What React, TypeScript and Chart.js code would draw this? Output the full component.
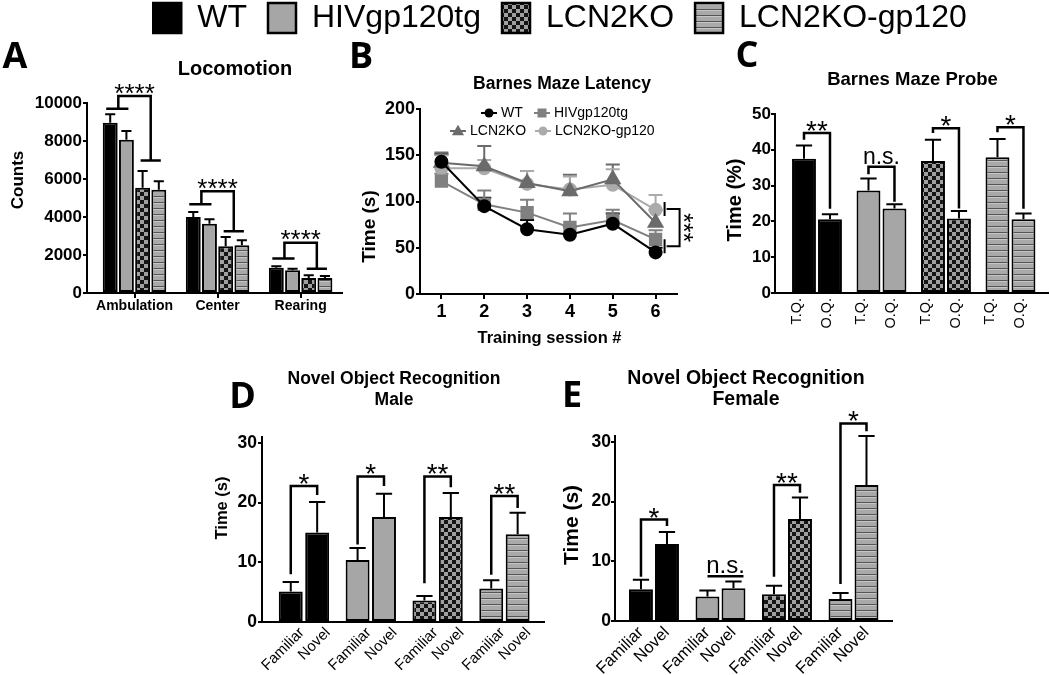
import React, { useEffect, useRef } from 'react';
import { Chart, registerables } from 'chart.js';

Chart.register(...registerables);

const W = 1050;
const H = 675;
const SANS = "'Liberation Sans', Arial, Helvetica, sans-serif";
const LETTER_FONT = "'Open Sans', 'Liberation Sans', Arial, sans-serif";
const BLACK = '#000000';

// ---------------- data ----------------
const groups = ['WT', 'HIVgp120tg', 'LCN2KO', 'LCN2KO-gp120'];

// A: Locomotion
const locoCategories = ['Ambulation', 'Center', 'Rearing'];
const locoTicks = [0, 2000, 4000, 6000, 8000, 10000];
const locoWT = [8965, 4000, 1333];
const locoWTSem = [440, 263, 71];
const locoHIV = [8070, 3649, 1193];
const locoHIVSem = [456, 228, 87];
const locoKO = [5544, 2456, 789];
const locoKOSem = [877, 491, 141];
const locoKOgp = [5439, 2509, 789];
const locoKOgpSem = [438, 263, 106];
const locoSig = [[9700, 10370, 6980], [4670, 5350, 3245], [1810, 2650, 1280]];
const locoSigLabels = ['****', '****', '****'];

// B: Barnes maze latency
const sessions = ['1', '2', '3', '4', '5', '6'];
const latencyTicks = [0, 50, 100, 150, 200];
const latWT = [143, 95, 70, 64, 76, 45];
const latWTSem = [8, 9, 10, 9, 11, 5];
const latHIV = [122, 97, 88, 72, 80, 59];
const latHIVSem = [8, 15, 14, 15, 11, 10];
const latKO = [142, 138, 120, 111, 124, 77];
const latKOSem = [11, 22, 13, 18, 16, 14];
const latKOgp = [136, 136, 119, 113, 118, 91];
const latKOgpSem = [14, 9, 14, 14, 17, 16];
const latSig = [92, 51.5];
const latSigLabel = '***';

// C: Barnes maze probe
const probeLabels = ['T.Q.', 'O.Q.'];
const probeTicks = [0, 10, 20, 30, 40, 50];
const probeTQ = [37.5, 28.6, 36.9, 37.9];
const probeTQSem = [3.7, 3.4, 5.9, 5.1];
const probeOQ = [20.6, 23.6, 20.8, 20.6];
const probeOQSem = [1.4, 1.2, 2.1, 1.6];
const probeSig = [[42.8, 44.7, 23.5], [33.2, 35.3, 25.5], [44.7, 46.0, 23.6], [44.9, 46.3, 23.5]];
const probeSigLabels = ['**', 'n.s.', '*', '*'];

// D / E: Novel object recognition
const objectLabels = ['Familiar', 'Novel'];
const objectTicks = [0, 10, 20, 30];
const maleFamiliar = [5.1, 10.4, 3.6, 5.6];
const maleFamiliarSem = [1.6, 2.0, 0.75, 1.4];
const maleNovel = [15.0, 17.6, 17.6, 14.7];
const maleNovelSem = [5.1, 3.9, 4.0, 3.6];
const maleSig = [[8.0, 22.8, 21.3], [13.0, 24.4, 22.8], [6.5, 24.4, 22.6], [7.9, 21.1, 19.1]];
const maleSigLabels = ['*', '*', '**', '**'];

const femaleFamiliar = [5.3, 4.1, 4.5, 3.7];
const femaleFamiliarSem = [1.6, 1.0, 1.4, 1.0];
const femaleNovel = [12.9, 5.5, 17.1, 22.8];
const femaleNovelSem = [2.0, 1.1, 3.6, 8.2];
const femaleSig = [[7.4, 17.0, 15.9], [7.5, 7.5, 7.5], [7.4, 22.8, 21.5], [6.2, 33.1, 31.8]];
const femaleSigLabels = ['*', 'n.s.', '**', '*'];

// ---------------- layout (styles) ----------------
// xStart / xRange: category-axis span (in category units) so the first group sits
// a little further from the y axis, as in GraphPad.
const AREA_A = { left: 87, top: 103, right: 342, bottom: 293, yW: 70, xH: 50, xStart: -0.572, xRange: 3.07 };
const AREA_B = { left: 420, top: 109, right: 677, bottom: 294, yW: 70, xH: 40 };
const AREA_C = { left: 775, top: 114, right: 1048, bottom: 293, yW: 70, xH: 50, xStart: -0.651, xRange: 4.233 };
const AREA_D = { left: 262, top: 437, right: 544, bottom: 622, yW: 70, xH: 53, xStart: -0.628, xRange: 4.22 };
const AREA_E = { left: 615, top: 436, right: 892, bottom: 621, yW: 70, xH: 54, xStart: -0.586, xRange: 4.165 };
const B_LEGEND_SLOTS = [[489, 113], [542, 113], [458, 131], [543, 131]];

function makeFills(): any[] {
  const check = document.createElement('canvas');
  check.width = 8;
  check.height = 8;
  let g = check.getContext('2d')!;
  g.fillStyle = '#151515';
  g.fillRect(0, 0, 8, 8);
  g.fillStyle = '#a0a0a0';
  g.fillRect(0, 0, 4, 4);
  g.fillRect(4, 4, 4, 4);
  const stripe = document.createElement('canvas');
  stripe.width = 6;
  stripe.height = 6;
  g = stripe.getContext('2d')!;
  g.fillStyle = '#a9a9a9';
  g.fillRect(0, 0, 6, 6);
  g.fillStyle = '#555555';
  g.fillRect(0, 4, 6, 1);
  g.fillStyle = '#c6c6c6';
  g.fillRect(0, 5, 6, 1);
  const c = document.createElement('canvas').getContext('2d')!;
  return ['#000000', '#a6a6a6', c.createPattern(check, 'repeat'), c.createPattern(stripe, 'repeat')];
}

function padFor(a: any) {
  return { left: a.left - a.yW, top: a.top, right: W - a.right, bottom: H - a.bottom - a.xH };
}

function baseOptions(a: any) {
  return {
    responsive: false,
    animation: false,
    events: [],
    layout: { padding: padFor(a) },
    plugins: { legend: { display: false }, title: { display: false }, tooltip: { enabled: false } },
  };
}

function spanCategories(a: any) {
  return (s: any) => {
    if (a.xStart != null) {
      s._startValue = a.xStart;
      s._valueRange = a.xRange;
    }
  };
}

function yAxis(a: any, max: number, ticks: number[], size: number, tickLen: number, pad: number) {
  return {
    type: 'linear',
    min: 0,
    max,
    afterFit: (s: any) => { s.width = a.yW; },
    afterBuildTicks: (s: any) => { s.ticks = ticks.map((v) => ({ value: v })); },
    ticks: { color: BLACK, padding: pad, font: { family: SANS, size, weight: 'bold' }, callback: (v: any) => String(v) },
    grid: { display: true, drawOnChartArea: false, drawTicks: true, tickLength: tickLen, color: BLACK, lineWidth: 2 },
    border: { display: true, color: BLACK, width: 2 },
  };
}

// ---------------- plugins ----------------
function textPlugin(items: any[]) {
  return {
    id: 'panelTexts',
    afterDraw(chart: any) {
      const ctx = chart.ctx;
      for (const t of items) {
        ctx.save();
        ctx.translate(t.x, t.y);
        if (t.rotate) ctx.rotate(t.rotate);
        ctx.font = `${t.bold ? 'bold ' : ''}${t.size}px ${t.family || SANS}`;
        ctx.fillStyle = BLACK;
        ctx.textAlign = 'center';
        ctx.textBaseline = 'middle';
        ctx.fillText(t.text, 0, 0);
        ctx.restore();
      }
    },
  };
}

function errorBars(capHalf: number | null, before: boolean) {
  const draw = (chart: any) => {
    const ctx = chart.ctx;
    const y = chart.scales.y;
    chart.data.datasets.forEach((ds: any, i: number) => {
      if (!ds.errors) return;
      const meta = chart.getDatasetMeta(i);
      ctx.save();
      ctx.strokeStyle = ds.errorColor || BLACK;
      ctx.lineWidth = 2;
      meta.data.forEach((el: any, j: number) => {
        const v = ds.data[j];
        const e = ds.errors[j];
        const x = el.x;
        const y0 = y.getPixelForValue(v);
        const y1 = y.getPixelForValue(v + e);
        const h = capHalf != null ? capHalf : el.width * 0.34;
        ctx.beginPath();
        ctx.moveTo(x, y0);
        ctx.lineTo(x, y1);
        ctx.moveTo(x - h, y1);
        ctx.lineTo(x + h, y1);
        ctx.stroke();
      });
      ctx.restore();
    });
  };
  return before ? { id: 'errorBars', beforeDatasetsDraw: draw } : { id: 'errorBars', afterDatasetsDraw: draw };
}

function drawSigLabel(ctx: any, text: string, x: number, yTop: number, starSize: number, nsSize: number) {
  ctx.save();
  ctx.fillStyle = BLACK;
  ctx.textAlign = 'center';
  ctx.textBaseline = 'alphabetic';
  if (text === 'n.s.') {
    ctx.font = `${nsSize}px ${SANS}`;
    ctx.fillText(text, x, yTop - 3);
  } else {
    ctx.font = `${starSize}px ${SANS}`;
    ctx.fillText(text, x, yTop - 9 + 0.57 * starSize);
  }
  ctx.restore();
}

function pairSig(sig: number[][], labels: string[], starSize: number, nsSize: number) {
  return {
    id: 'pairSig',
    afterDatasetsDraw(chart: any) {
      const ctx = chart.ctx;
      const y = chart.scales.y;
      const m0 = chart.getDatasetMeta(0);
      const m1 = chart.getDatasetMeta(1);
      sig.forEach((s, j) => {
        const x0 = m0.data[j].x;
        const x1 = m1.data[j].x;
        const ya = y.getPixelForValue(s[0]);
        const yt = y.getPixelForValue(s[1]);
        const yb = y.getPixelForValue(s[2]);
        const flat = s[0] === s[1] && s[1] === s[2];
        ctx.save();
        ctx.strokeStyle = BLACK;
        ctx.lineWidth = 2.5;
        ctx.beginPath();
        if (flat) {
          ctx.moveTo(x0, yt);
          ctx.lineTo(x1 + 10, yt);
        } else {
          ctx.moveTo(x0, ya);
          ctx.lineTo(x0, yt);
          ctx.lineTo(x1, yt);
          ctx.lineTo(x1, yb);
        }
        ctx.stroke();
        ctx.restore();
        drawSigLabel(ctx, labels[j], (x0 + x1) / 2 + (flat ? 5 : 0), yt, starSize, nsSize);
      });
    },
  };
}

function groupSig(sig: number[][], labels: string[], starSize: number) {
  return {
    id: 'groupSig',
    afterDatasetsDraw(chart: any) {
      const ctx = chart.ctx;
      const y = chart.scales.y;
      const metas = [0, 1, 2, 3].map((i) => chart.getDatasetMeta(i));
      sig.forEach((s, j) => {
        const b = metas.map((m: any) => m.data[j]);
        const xl = (b[0].x + b[1].x) / 2;
        const xr = (b[2].x + b[3].x) / 2;
        const yl = y.getPixelForValue(s[0]);
        const yt = y.getPixelForValue(s[1]);
        const yr = y.getPixelForValue(s[2]);
        ctx.save();
        ctx.strokeStyle = BLACK;
        ctx.lineWidth = 2.5;
        ctx.beginPath();
        ctx.moveTo(b[0].x - 4, yl);
        ctx.lineTo(b[1].x + 2, yl);
        ctx.moveTo(xl, yl);
        ctx.lineTo(xl, yt);
        ctx.lineTo(xr, yt);
        ctx.lineTo(xr, yr);
        ctx.moveTo(b[2].x - 2, yr);
        ctx.lineTo(b[3].x + 2, yr);
        ctx.stroke();
        ctx.restore();
        drawSigLabel(ctx, labels[j], (xl + xr) / 2, yt, starSize, starSize);
      });
    },
  };
}

function latencySig() {
  return {
    id: 'latencySig',
    afterDatasetsDraw(chart: any) {
      const ctx = chart.ctx;
      const xs = chart.scales.x.getPixelForValue(sessions.length - 1);
      const y = chart.scales.y;
      const yu = y.getPixelForValue(latSig[0]);
      const yl = y.getPixelForValue(latSig[1]);
      ctx.save();
      ctx.strokeStyle = BLACK;
      ctx.lineWidth = 2;
      ctx.beginPath();
      ctx.moveTo(xs + 9, yu - 7);
      ctx.lineTo(xs + 9, yu + 7);
      ctx.moveTo(xs + 9, yl - 7);
      ctx.lineTo(xs + 9, yl + 7);
      ctx.moveTo(xs + 11, yu);
      ctx.lineTo(xs + 24, yu);
      ctx.lineTo(xs + 24, yl);
      ctx.lineTo(xs + 11, yl);
      ctx.stroke();
      ctx.translate(xs + 34, (yu + yl) / 2);
      ctx.rotate(Math.PI / 2);
      ctx.font = `25px ${SANS}`;
      ctx.fillStyle = BLACK;
      ctx.textAlign = 'center';
      ctx.textBaseline = 'alphabetic';
      ctx.fillText(latSigLabel, 0, 0.57 * 25);
      ctx.restore();
    },
  };
}

function drawMarker(ctx: any, style: string, x: number, y: number, r: number, color: string) {
  ctx.fillStyle = color;
  ctx.beginPath();
  if (style === 'rect') {
    ctx.rect(x - r, y - r, 2 * r, 2 * r);
  } else if (style === 'triangle') {
    ctx.moveTo(x, y - r * 1.15);
    ctx.lineTo(x + r * 1.1, y + r * 0.75);
    ctx.lineTo(x - r * 1.1, y + r * 0.75);
    ctx.closePath();
  } else {
    ctx.arc(x, y, r, 0, Math.PI * 2);
  }
  ctx.fill();
}

function latencyLegend() {
  return {
    id: 'latencyLegend',
    afterDraw(chart: any) {
      const ctx = chart.ctx;
      chart.data.datasets.forEach((ds: any, i: number) => {
        const [x, y] = B_LEGEND_SLOTS[i];
        ctx.save();
        ctx.strokeStyle = ds.borderColor;
        ctx.lineWidth = 2;
        ctx.beginPath();
        ctx.moveTo(x - 8, y);
        ctx.lineTo(x + 8, y);
        ctx.stroke();
        drawMarker(ctx, ds.pointStyle, x, y, ds.pointStyle === 'triangle' ? 5.5 : 4.5, ds.borderColor);
        ctx.font = `14px ${SANS}`;
        ctx.fillStyle = BLACK;
        ctx.textAlign = 'left';
        ctx.textBaseline = 'middle';
        ctx.fillText(ds.label, x + 12, y);
        ctx.restore();
      });
    },
  };
}

// ---------------- charts ----------------
function makeLegend(canvas: HTMLCanvasElement) {
  const fills = makeFills();
  return new Chart(canvas, {
    type: 'bar',
    data: {
      labels: [],
      datasets: groups.map((g, i) => ({ label: g, data: [], backgroundColor: fills[i], borderColor: BLACK, borderWidth: 2.5 })),
    },
    options: {
      responsive: false,
      animation: false,
      events: [],
      layout: { padding: { left: 70, right: 0, top: 0, bottom: 0 } },
      plugins: {
        legend: {
          display: true,
          position: 'top',
          align: 'center',
          labels: { boxWidth: 28, boxHeight: 30, padding: 21, color: BLACK, font: { family: SANS, size: 32 } },
        },
        tooltip: { enabled: false },
      },
      scales: { x: { display: false }, y: { display: false } },
    },
  } as any);
}

function makeA(canvas: HTMLCanvasElement) {
  const fills = makeFills();
  const vals = [locoWT, locoHIV, locoKO, locoKOgp];
  const sems = [locoWTSem, locoHIVSem, locoKOSem, locoKOgpSem];
  return new Chart(canvas, {
    type: 'bar',
    data: {
      labels: locoCategories,
      datasets: groups.map((g, i) => ({
        label: g,
        data: vals[i],
        errors: sems[i],
        backgroundColor: fills[i],
        borderColor: BLACK,
        borderWidth: 2,
        borderSkipped: false,
        categoryPercentage: 0.78,
        barPercentage: 0.92,
      })),
    },
    options: {
      ...baseOptions(AREA_A),
      scales: {
        x: {
          type: 'category',
          offset: true,
          afterFit: (s: any) => { s.height = AREA_A.xH; },
          afterBuildTicks: spanCategories(AREA_A),
          grid: { display: true, drawOnChartArea: false, drawTicks: true, tickLength: 5, offset: false, color: BLACK, lineWidth: 2 },
          border: { display: true, color: BLACK, width: 2 },
          ticks: { autoSkip: false, minRotation: 0, maxRotation: 0, padding: 0, color: BLACK, font: { family: SANS, size: 14, weight: 'bold' } },
        },
        y: yAxis(AREA_A, 10000, locoTicks, 17, 4, 1),
      },
    },
    plugins: [
      errorBars(null, false),
      groupSig(locoSig, locoSigLabels, 26),
      textPlugin([
        { text: 'A', x: 15, y: 58, size: 36, bold: true, family: LETTER_FONT },
        { text: 'Locomotion', x: 235, y: 69.5, size: 20, bold: true },
        { text: 'Counts', x: 18, y: 180, size: 17, bold: true, rotate: -Math.PI / 2 },
      ]),
    ],
  } as any);
}

function makeB(canvas: HTMLCanvasElement) {
  const series = [
    { data: latWT, sem: latWTSem, color: '#000000', style: 'circle', r: 6, order: 0 },
    { data: latHIV, sem: latHIVSem, color: '#808080', style: 'rect', r: 8, order: 2 },
    { data: latKO, sem: latKOSem, color: '#6b6b6b', style: 'triangle', r: 8, order: 1 },
    { data: latKOgp, sem: latKOgpSem, color: '#ababab', style: 'circle', r: 6, order: 3 },
  ];
  return new Chart(canvas, {
    type: 'line',
    data: {
      labels: sessions,
      datasets: series.map((s, i) => ({
        label: groups[i],
        data: s.data,
        errors: s.sem,
        errorColor: s.color,
        borderColor: s.color,
        backgroundColor: s.color,
        pointBackgroundColor: s.color,
        pointBorderColor: s.color,
        pointStyle: s.style,
        pointRadius: s.r,
        borderWidth: 2,
        tension: 0,
        fill: false,
        order: s.order,
      })),
    },
    options: {
      ...baseOptions(AREA_B),
      scales: {
        x: {
          type: 'category',
          offset: true,
          afterFit: (s: any) => { s.height = AREA_B.xH; },
          grid: { display: true, drawOnChartArea: false, drawTicks: true, tickLength: 5, offset: false, color: BLACK, lineWidth: 2 },
          border: { display: true, color: BLACK, width: 2 },
          ticks: { autoSkip: false, minRotation: 0, maxRotation: 0, padding: 2, color: BLACK, font: { family: SANS, size: 18, weight: 'bold' } },
        },
        y: yAxis(AREA_B, 200, latencyTicks, 18, 4, 1),
      },
    },
    plugins: [
      errorBars(7, true),
      latencySig(),
      latencyLegend(),
      textPlugin([
        { text: 'B', x: 361, y: 58, size: 36, bold: true, family: LETTER_FONT },
        { text: 'Barnes Maze Latency', x: 562, y: 84, size: 17.5, bold: true },
        { text: 'Time (s)', x: 370, y: 226.5, size: 19, bold: true, rotate: -Math.PI / 2 },
        { text: 'Training session #', x: 549.5, y: 338.5, size: 16.5, bold: true },
      ]),
    ],
  } as any);
}

function makePairChart(canvas: HTMLCanvasElement, p: any) {
  const fills = makeFills();
  const xTicks = (label: string, offset: number) => ({
    autoSkip: false,
    minRotation: p.rotation,
    maxRotation: p.rotation,
    labelOffset: offset,
    padding: p.xPad,
    color: BLACK,
    font: { family: SANS, size: p.xFont },
    callback: () => label,
  });
  const barBase = { backgroundColor: fills, borderColor: BLACK, borderWidth: 2, borderSkipped: false, categoryPercentage: p.cp, barPercentage: p.bp };
  return new Chart(canvas, {
    type: 'bar',
    data: {
      labels: groups,
      datasets: [
        { label: p.labels[0], data: p.first, errors: p.firstSem, ...barBase },
        { label: p.labels[1], data: p.second, errors: p.secondSem, ...barBase },
      ],
    },
    options: {
      ...baseOptions(p.area),
      scales: {
        x: {
          type: 'category',
          offset: true,
          afterFit: (s: any) => { s.height = p.area.xH; },
          afterBuildTicks: spanCategories(p.area),
          grid: { display: false, drawTicks: false },
          border: { display: true, color: BLACK, width: 2 },
          ticks: xTicks(p.labels[0], p.offsets[0]),
        },
        x2: {
          type: 'category',
          axis: 'x',
          labels: groups,
          offset: true,
          position: { y: 0 },
          afterBuildTicks: spanCategories(p.area),
          grid: { display: false, drawTicks: false },
          border: { display: false },
          ticks: xTicks(p.labels[1], p.offsets[1]),
        },
        y: yAxis(p.area, p.max, p.ticks, p.yFont, 4, p.yPad),
      },
    },
    plugins: [errorBars(null, false), pairSig(p.sig, p.sigLabels, 28, p.nsSize), textPlugin(p.texts)],
  } as any);
}

function makeC(canvas: HTMLCanvasElement) {
  return makePairChart(canvas, {
    area: AREA_C,
    labels: probeLabels,
    first: probeTQ,
    firstSem: probeTQSem,
    second: probeOQ,
    secondSem: probeOQSem,
    max: 50,
    ticks: probeTicks,
    yFont: 17,
    yPad: 0,
    xFont: 14.5,
    rotation: 90,
    xPad: 5,
    offsets: [-20, 10],
    cp: 0.806,
    bp: 0.92,
    sig: probeSig,
    sigLabels: probeSigLabels,
    nsSize: 23,
    texts: [
      { text: 'C', x: 747, y: 57, size: 36, bold: true, family: LETTER_FONT },
      { text: 'Barnes Maze Probe', x: 912.5, y: 80, size: 18.5, bold: true },
      { text: 'Time (%)', x: 735.5, y: 200, size: 20, bold: true, rotate: -Math.PI / 2 },
    ],
  });
}

function makeD(canvas: HTMLCanvasElement) {
  return makePairChart(canvas, {
    area: AREA_D,
    labels: objectLabels,
    first: maleFamiliar,
    firstSem: maleFamiliarSem,
    second: maleNovel,
    secondSem: maleNovelSem,
    max: 31,
    ticks: objectTicks,
    yFont: 17.5,
    yPad: 1,
    xFont: 15,
    rotation: 45,
    xPad: 2,
    offsets: [-2, 24],
    cp: 0.79,
    bp: 0.906,
    sig: maleSig,
    sigLabels: maleSigLabels,
    nsSize: 24,
    texts: [
      { text: 'D', x: 242.5, y: 398, size: 36, bold: true, family: LETTER_FONT },
      { text: 'Novel Object Recognition', x: 394, y: 379, size: 17.5, bold: true },
      { text: 'Male', x: 394, y: 400, size: 17.5, bold: true },
      { text: 'Time (s)', x: 222.5, y: 508, size: 16.5, bold: true, rotate: -Math.PI / 2 },
    ],
  });
}

function makeE(canvas: HTMLCanvasElement) {
  return makePairChart(canvas, {
    area: AREA_E,
    labels: objectLabels,
    first: femaleFamiliar,
    firstSem: femaleFamiliarSem,
    second: femaleNovel,
    secondSem: femaleNovelSem,
    max: 31,
    ticks: objectTicks,
    yFont: 17.5,
    yPad: 0,
    xFont: 16.5,
    rotation: 45,
    xPad: 2,
    offsets: [-13, 13],
    cp: 0.782,
    bp: 0.92,
    sig: femaleSig,
    sigLabels: femaleSigLabels,
    nsSize: 24,
    texts: [
      { text: 'E', x: 572, y: 396.5, size: 36, bold: true, family: LETTER_FONT },
      { text: 'Novel Object Recognition', x: 746, y: 379, size: 19.5, bold: true },
      { text: 'Female', x: 746, y: 399.5, size: 19.5, bold: true },
      { text: 'Time (s)', x: 572, y: 525, size: 21, bold: true, rotate: -Math.PI / 2 },
    ],
  });
}

function ChartCanvas({ make, top = 0 }: { make: (c: HTMLCanvasElement) => Chart; top?: number }) {
  const ref = useRef<HTMLCanvasElement>(null);
  useEffect(() => {
    if (!ref.current) return;
    const chart = make(ref.current);
    return () => chart.destroy();
  }, [make]);
  return (
    <canvas
      ref={ref}
      width={W}
      height={H}
      style={{ position: 'absolute', left: 0, top, width: W, height: H, display: 'block' }}
    />
  );
}

export default function App() {
  return (
    <div style={{ position: 'absolute', left: 0, top: 0, width: W, height: H, background: '#ffffff', overflow: 'hidden' }}>
      <ChartCanvas make={makeLegend} top={-19} />
      <ChartCanvas make={makeA} />
      <ChartCanvas make={makeB} />
      <ChartCanvas make={makeC} />
      <ChartCanvas make={makeD} />
      <ChartCanvas make={makeE} />
    </div>
  );
}
